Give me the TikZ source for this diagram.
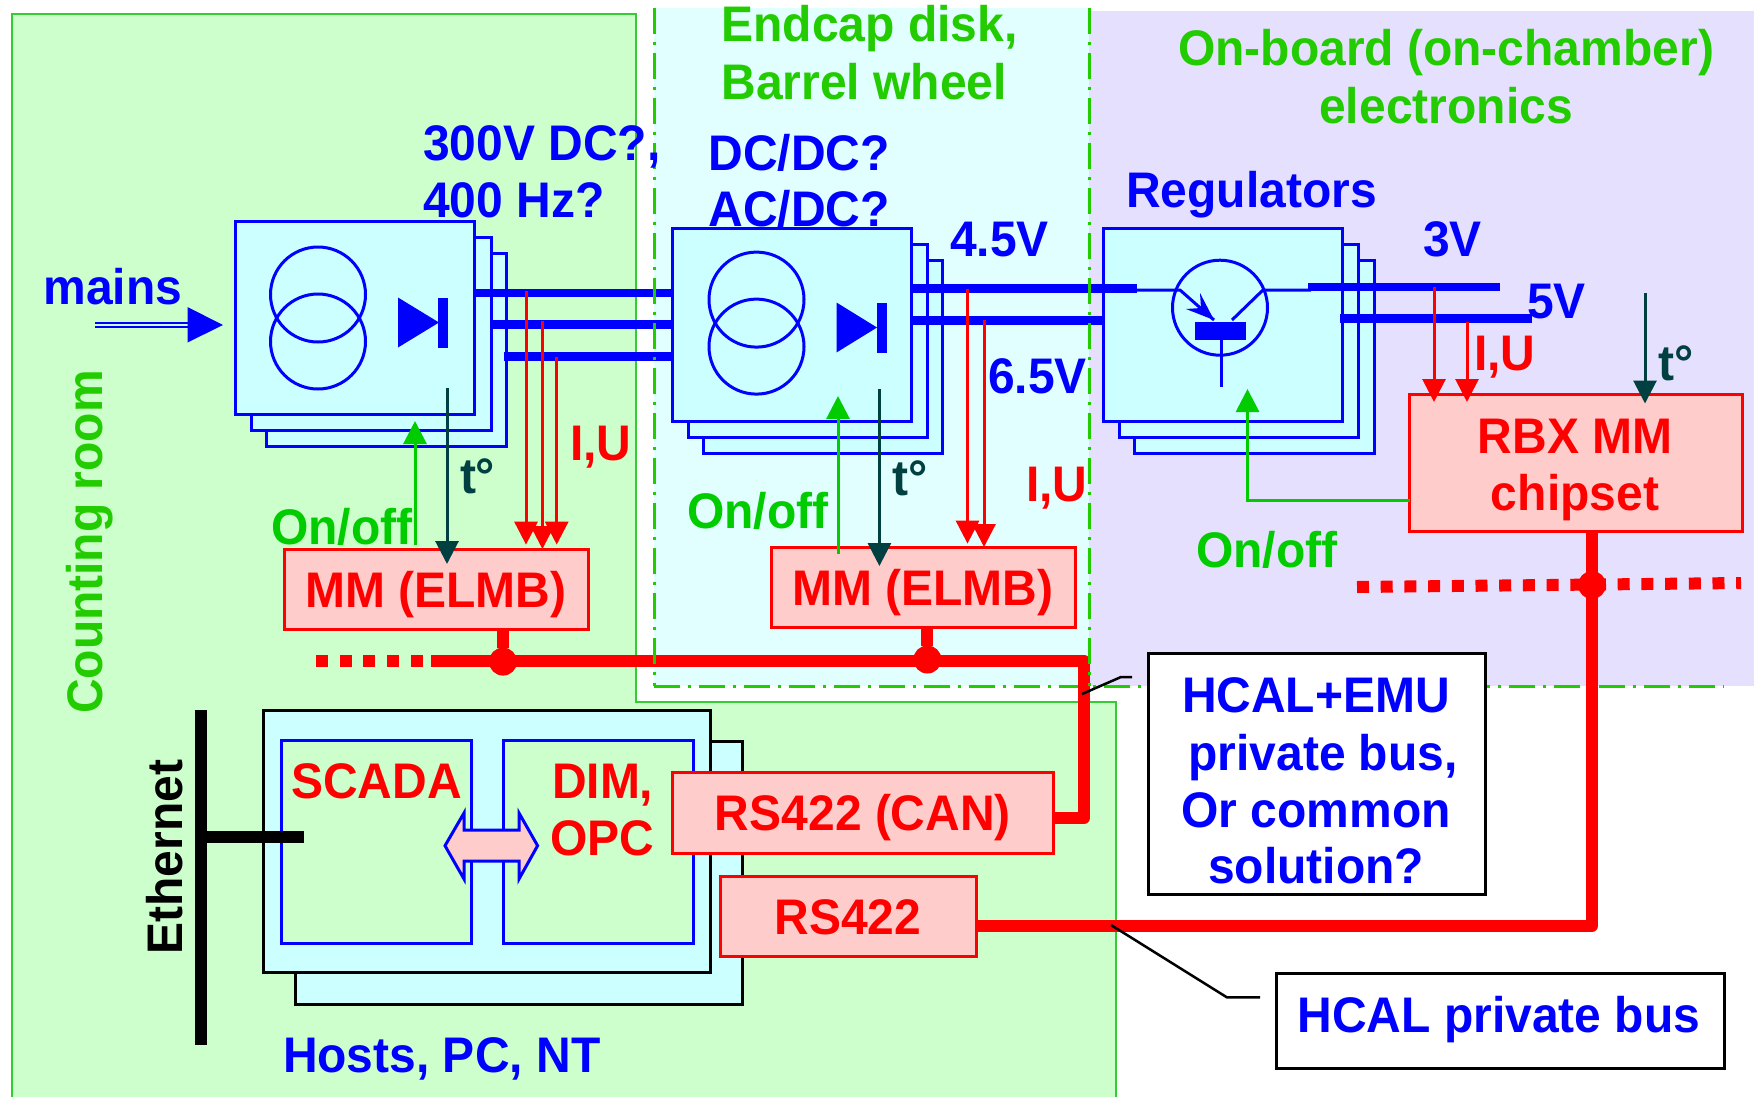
\documentclass[tikz,border=0pt]{standalone}
\usepackage{fontspec}
\setmainfont{Liberation Sans}[FakeStretch=0.96]
\usetikzlibrary{arrows.meta,calc}
\definecolor{roomgreen}{HTML}{CCFFCC}
\definecolor{roomline}{HTML}{33CC33}
\definecolor{endcapbg}{HTML}{E2FFFF}
\definecolor{boardbg}{HTML}{E6E0FF}
\definecolor{stackbg}{HTML}{CCFFFF}
\definecolor{pinkbg}{HTML}{FFCCCC}
\definecolor{headgreen}{HTML}{22CC00}
\definecolor{ctlgreen}{HTML}{00CC00}
\definecolor{darkteal}{HTML}{004040}
\newcommand\bx[6]{%
  \pgfmathsetlengthmacro\bxw{(#5-#3)*1pt}%
  \pgfmathsetlengthmacro\bxh{(#6-#4)*1pt}%
  \node[#1,minimum width=\bxw,minimum height=\bxh] (#2) at ({(#3+#5)/2},{(#4+#6)/2}) {};}
\tikzset{
  base box/.style={draw,rectangle,inner sep=0pt,outer sep=0pt,line width=3pt},
  stackbox/.style={base box,draw=blue,fill=stackbg},
  hostbox/.style={base box,draw=black,fill=stackbg},
  softbox/.style={base box,draw=blue,fill=roomgreen},
  redbox/.style={base box,draw=red,fill=pinkbg},
  notebox/.style={base box,draw=black,fill=white},
  txt/.style={inner sep=0pt,outer sep=0pt,font=\fontsize{50}{57}\selectfont\bfseries},
  lbl/.style={txt,anchor=base west,xshift=-1pt,yshift=-1pt},
  ctr/.style={txt,anchor=base,yshift=-1pt},
  blue txt/.style={text=blue},
  red txt/.style={text=red},
  green txt/.style={text=ctlgreen},
  head txt/.style={text=headgreen},
  teal txt/.style={text=darkteal},
  coil/.style={draw=blue,line width=3pt,circle,minimum size=95pt,inner sep=0pt,outer sep=0pt},
  power/.style={draw=blue,line width=8.5pt},
  sense/.style={draw=red,line width=3pt,-{Triangle[length=23pt,width=23pt,fill=red]}},
  control/.style={draw=ctlgreen,line width=3pt,-{Triangle[length=23pt,width=23pt,fill=ctlgreen]}},
  temp/.style={draw=darkteal,line width=3pt,-{Triangle[length=23pt,width=23pt,fill=darkteal]}},
  bus/.style={draw=red,line width=12pt,line join=round},
  busdash/.style={draw=red,line width=12pt,dash pattern=on 12pt off 11.7pt},
  busdot/.style={circle,fill=red,minimum size=28pt,inner sep=0pt,outer sep=0pt},
  zone/.style={draw=headgreen,line width=3pt,dash pattern=on 26pt off 8pt on 3pt off 8pt},
  callout/.style={draw=black,line width=2.5pt}
}
\begin{document}
\begin{tikzpicture}[x=1pt,y=-1pt]
\useasboundingbox (0,0) rectangle (1754,1096);
% backgrounds
\fill[white] (0,0) rectangle (1754,1096);
\fill[boardbg] (1089,11) rectangle (1754,686);
\fill[endcapbg] (654,8) rectangle (1089,686);
\draw[fill=roomgreen,draw=roomline,line width=2.5pt]
  (12,1098) -- (12,14) -- (636,14) -- (636,702) -- (1116,702) -- (1116,1098);
\fill[white] (638,8) rectangle (653,700);
\fill[white] (638,688) rectangle (1114,700.7);
\fill[endcapbg] (654,8) rectangle (1089,686);
\draw[zone] (654,686) -- (1724,686);
% labels behind boxes
\node[lbl,blue txt] (acdc) at (709.6,225.7) {AC/DC?};
% power stacks
\bx{stackbox}{s1c}{266.5}{253.5}{506}{446}
\bx{stackbox}{s1b}{251}{237}{491}{430}
\bx{stackbox}{s1a}{235}{221}{474.6}{414}
\bx{stackbox}{s2c}{703}{260}{942.7}{453}
\bx{stackbox}{s2b}{688}{244}{927.7}{437}
\bx{stackbox}{s2a}{672.7}{228.6}{911.4}{421}
\bx{stackbox}{s3c}{1134.5}{260}{1374}{453}
\bx{stackbox}{s3b}{1119.6}{244}{1358}{437}
\bx{stackbox}{s3a}{1103}{228.6}{1342.7}{421}
% transformers
\node[coil] (t1u) at (318,294.5) {};
\node[coil] (t1l) at (318,341.5) {};
\node[coil] (t2u) at (756.5,299.6) {};
\node[coil] (t2l) at (756.5,346.6) {};
% diodes
\fill[blue] (398,297.5) -- (398,347.5) -- (439,322.5) -- cycle;
\fill[blue] (438,297.5) rectangle (448,347.5);
\fill[blue] (836.5,302.5) -- (836.5,352.5) -- (877,327.5) -- cycle;
\fill[blue] (877,302.5) rectangle (887,352.5);
% transistor
\node[coil] (tr) at (1220,307.7) {};
\fill[blue] (1195,322) rectangle (1246,340);
\draw[blue,line width=3pt] (1221,340) -- (1221,387);
\draw[blue,line width=3pt] (1137,290) -- (1180,290) -- (1214,320);
\fill[blue] (1214,320) -- (1200,293) -- (1201,308) -- (1186,309) -- cycle;
\draw[blue,line width=3pt] (1232,320) -- (1263,290) -- (1311,290);
% mains arrow
\coordinate (mainsin) at (95,325);
\coordinate (mainsend) at (187.5,325);
\draw[blue,line width=2pt,double=roomgreen,double distance=2.5pt] (mainsin) -- (mainsend);
\fill[blue] (187.5,307) -- (187.5,342.5) -- (223,325) -- cycle;
% power lines
\coordinate (p1) at (474.6,293);
\coordinate (p2) at (491,324.6);
\coordinate (p3) at (503.6,356.4);
\draw[power] (p1) -- (p1 -| s2a.west);
\draw[power] (p2) -- (p2 -| s2a.west);
\draw[power] (p3) -- (p3 -| s2a.west);
\coordinate (p4) at (911.4,288.6);
\coordinate (p4e) at (1137,288.6);
\coordinate (p5) at (911.4,320.4);
\draw[power] (p4) -- (p4e);
\draw[power] (p5) -- (p5 -| s3a.west);
\coordinate (p6) at (1308,287);
\coordinate (p6e) at (1500,287);
\coordinate (p7) at (1340,318.6);
\coordinate (p7e) at (1532,318.6);
\draw[power] (p6) -- (p6e);
\draw[power] (p7) -- (p7e);
% monitor boxes
\bx{redbox}{mma}{284}{549}{588}{629}
\bx{redbox}{mmb}{771}{547}{1075}{627.6}
\bx{redbox}{rbx}{1409.5}{394}{1742.6}{531.4}
% hosts
\bx{hostbox}{hb}{295}{741.4}{742}{1004}
\bx{hostbox}{ha}{263}{710}{710}{972}
\bx{softbox}{scada}{281}{740.7}{471}{943}
\bx{softbox}{dim}{503}{740.7}{693}{943}
\bx{redbox}{rcan}{672}{772}{1053}{853.5}
\bx{redbox}{rplain}{720}{876}{976}{956}
% control arrows
\coordinate (c1s) at (415,544.6); \coordinate (c1t) at (415,421);
\draw[control] (c1s) -- (c1t);
\coordinate (c2s) at (838,553.6); \coordinate (c2t) at (838,396);
\draw[control] (c2s) -- (c2t);
\coordinate (c3s) at (1409.5,500.7); \coordinate (c3c) at (1247.5,500.7); \coordinate (c3t) at (1247.5,389);
\draw[control] (c3s) -- (c3c) -- (c3t);
% temperature arrows
\coordinate (t1s) at (447,387.5); \coordinate (t1t) at (447,564);
\draw[temp] (t1s) -- (t1t);
\coordinate (t2s) at (879.4,389); \coordinate (t2t) at (879.4,566);
\draw[temp] (t2s) -- (t2t);
\coordinate (t3s) at (1645,293); \coordinate (t3t) at (1645,403.5);
\draw[temp] (t3s) -- (t3t);
% sense arrows
\coordinate (i1s) at (526,291); \coordinate (i1t) at (526,544.6);
\coordinate (i2s) at (542.4,320.7); \coordinate (i2t) at (542.4,549);
\coordinate (i3s) at (556.7,357); \coordinate (i3t) at (556.7,544.6);
\draw[sense] (i1s) -- (i1t);
\draw[sense] (i2s) -- (i2t);
\draw[sense] (i3s) -- (i3t);
\coordinate (i4s) at (967.5,288.6); \coordinate (i4t) at (967.5,543.6);
\coordinate (i5s) at (984,320); \coordinate (i5t) at (984,547);
\draw[sense] (i4s) -- (i4t);
\draw[sense] (i5s) -- (i5t);
\coordinate (i6s) at (1434,287); \coordinate (i6t) at (1434,402);
\coordinate (i7s) at (1467,322); \coordinate (i7t) at (1467,402);
\draw[sense] (i6s) -- (i6t);
\draw[sense] (i7s) -- (i7t);
% red buses
\node[busdot] (da) at (503,661.6) {};
\node[busdot] (db) at (927.4,659.5) {};
\node[busdot] (dc) at (1592,585) {};
\coordinate (busl) at (431,660.6);
\coordinate (busd) at (316,660.6);
\coordinate (busc) at (1084,660.6);
\coordinate (busr) at (1084,818);
\draw[bus] (busl) -- (busc) -- (busr) -- (rcan.east |- busr);
\draw[busdash] (busd) -- (busl);
\draw[bus] (mma.south -| da) -- (da);
\draw[bus] (mmb.south -| db) -- (db);
\coordinate (rbxb) at (1592,926);
\draw[bus] (rbx.south -| rbxb) -- (rbxb) -- (rplain.east |- rbxb);
\coordinate (oba) at (1357,587);
\coordinate (obb) at (1741,583);
\draw[busdash] (oba) -- (obb);
% zone verticals on top
\draw[zone] (654,8) -- (654,686);
\draw[zone] (1089,8) -- (1089,686);
% exchange double arrow
\draw[blue,line width=3pt,fill=pinkbg,line join=miter]
  (445,845.7) -- (464,813) -- (464,830) -- (519,830) -- (519,813) -- (537.6,845.7)
  -- (519,879) -- (519,861) -- (464,861) -- (464,879) -- cycle;
% ethernet
\coordinate (ethtop) at (201,710);
\coordinate (ethbot) at (201,1044.6);
\coordinate (ethbr) at (303.6,836.8);
\draw[black,line width=12pt] (ethtop) -- (ethbot);
\draw[black,line width=11.5pt] (ethbr -| ethtop) -- (ethbr);
% notes
\bx{notebox}{noteA}{1148}{653.5}{1485}{894}
\bx{notebox}{noteB}{1276}{973}{1724.5}{1068.4}
\coordinate (ca) at (1082,694); \coordinate (cb) at (1121,677); \coordinate (cc) at (1132,677);
\draw[callout] (ca) -- (cb) -- (cc);
\coordinate (cd) at (1111,925); \coordinate (ce) at (1227,997.4); \coordinate (cf) at (1260,997.4);
\draw[callout] (cd) -- (ce) -- (cf);
% text
\node[lbl,blue txt] (l300) at (424,159.6) {300V DC?,};
\node[lbl,blue txt] (l400) at (424,216.4) {400 Hz?};
\node[lbl,blue txt] (lmains) at (44.6,303.5) {mains};
\node[lbl,teal txt] (lt1) at (461,492) {t°};
\node[lbl,red txt] (liu1) at (571,459) {I,U};
\node[lbl,green txt] (lon1) at (272,543.6) {On/off};
\node[lbl,head txt] (lend) at (722.4,40) {Endcap disk,};
\node[lbl,head txt] (lbar) at (722.4,98) {Barrel wheel};
\node[ctr,head txt] (lonb) at (1446,64) {On-board (on-chamber)};
\node[ctr,head txt] (lele) at (1446,122) {electronics};
\node[lbl,blue txt] (ldc) at (709.6,169) {DC/DC?};
\node[lbl,blue txt] (lreg) at (1127,206) {Regulators};
\node[lbl,blue txt] (l45) at (951,255) {4.5V};
\node[lbl,blue txt] (l3) at (1424,255) {3V};
\node[lbl,blue txt] (l5) at (1528,317) {5V};
\node[lbl,blue txt] (l65) at (989,392) {6.5V};
\node[lbl,teal txt] (lt2) at (893.6,494) {t°};
\node[lbl,red txt] (liu2) at (1027,500.7) {I,U};
\node[lbl,green txt] (lon2) at (688,527.5) {On/off};
\node[lbl,red txt] (liu3) at (1475,369.6) {I,U};
\node[lbl,teal txt] (lt3) at (1659.6,379) {t°};
\node[lbl,green txt] (lon3) at (1197,566.6) {On/off};
\node[ctr,red txt] (tmma) at (436,606) {MM (ELMB)};
\node[ctr,red txt] (tmmb) at (923,604.5) {MM (ELMB)};
\node[ctr,red txt] (trbx) at (1575,452) {RBX MM};
\node[ctr,red txt] (tchip) at (1575,509) {chipset};
\node[ctr,red txt] (tcan) at (863,829) {RS422 (CAN)};
\node[ctr,red txt] (trs) at (848,933.6) {RS422};
\node[ctr,red txt] (tsc) at (376.5,797) {SCADA};
\node[lbl,red txt] (tdim) at (553,797) {DIM,};
\node[lbl,red txt] (topc) at (551,854.5) {OPC};
\node[lbl,blue txt] (thosts) at (284,1071) {Hosts, PC, NT};
\node[ctr,blue txt] (tn1) at (1316,711) {HCAL+EMU};
\node[ctr,blue txt] (tn2) at (1323,769) {private bus,};
\node[ctr,blue txt] (tn3) at (1316,826.5) {Or common};
\node[ctr,blue txt] (tn4) at (1316,882) {solution?};
\node[ctr,blue txt] (tn5) at (1499,1031) {HCAL private bus};
\node[ctr,head txt,rotate=90,xshift=0pt,yshift=0pt] (lroom) at (102,541) {Counting room};
\node[ctr,text=black,rotate=90,xshift=0pt,yshift=0pt] (leth) at (182,856) {Ethernet};
\end{tikzpicture}
\end{document}
